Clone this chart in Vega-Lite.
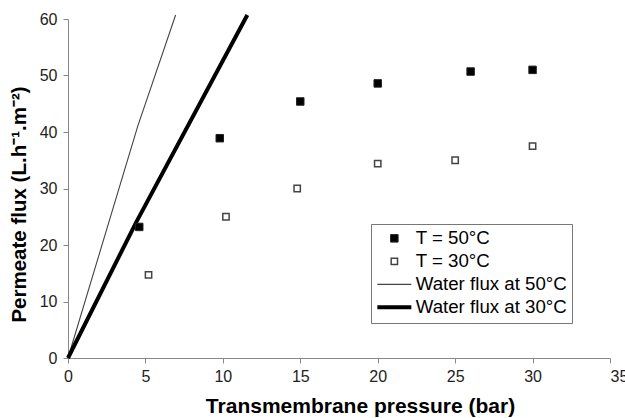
{
  "$schema": "https://vega.github.io/schema/vega-lite/v6.json",
  "width": 542,
  "height": 339,
  "autosize": "none",
  "padding": {"left": 68, "top": 19, "right": 15, "bottom": 60},
  "background": "white",
  "datasets": {
    "water": [
      {"series": "Water flux at 50°C", "tmp": 0, "flux": 0},
      {"series": "Water flux at 50°C", "tmp": 4.5, "flux": 41},
      {"series": "Water flux at 50°C", "tmp": 6.95, "flux": 60.7},
      {"series": "Water flux at 30°C", "tmp": 0, "flux": 0},
      {"series": "Water flux at 30°C", "tmp": 4.4, "flux": 24},
      {"series": "Water flux at 30°C", "tmp": 11.58, "flux": 60.7}
    ],
    "measured": [
      {"series": "T = 50°C", "tmp": 4.6, "flux": 23.2},
      {"series": "T = 50°C", "tmp": 9.8, "flux": 38.9},
      {"series": "T = 50°C", "tmp": 15, "flux": 45.4},
      {"series": "T = 50°C", "tmp": 20, "flux": 48.6},
      {"series": "T = 50°C", "tmp": 26, "flux": 50.7},
      {"series": "T = 50°C", "tmp": 30, "flux": 51.0},
      {"series": "T = 30°C", "tmp": 5.2, "flux": 14.7},
      {"series": "T = 30°C", "tmp": 10.2, "flux": 25.0},
      {"series": "T = 30°C", "tmp": 14.8, "flux": 30.0},
      {"series": "T = 30°C", "tmp": 20, "flux": 34.4},
      {"series": "T = 30°C", "tmp": 25, "flux": 35.0},
      {"series": "T = 30°C", "tmp": 30, "flux": 37.5}
    ]
  },
  "config": {
    "view": {"stroke": null},
    "font": "Liberation Sans",
    "axis": {
      "grid": false,
      "domainColor": "#888888",
      "domainWidth": 1,
      "tickColor": "#888888",
      "tickWidth": 1,
      "tickSize": 5,
      "labelFont": "Liberation Sans",
      "labelFontSize": 16,
      "labelColor": "#222222",
      "titleFont": "Liberation Sans",
      "titleFontWeight": "bold",
      "titleColor": "#000000"
    },
    "legend": {
      "labelFont": "Liberation Sans",
      "labelFontSize": 18.7,
      "labelColor": "#000000",
      "labelLimit": 300,
      "strokeColor": "#777777",
      "fillColor": "#ffffff",
      "padding": 5,
      "rowPadding": 3,
      "symbolOffset": 9,
      "labelOffset": 12
    }
  },
  "layer": [
    {
      "data": {"name": "water"},
      "mark": {"type": "line", "strokeCap": "butt"},
      "encoding": {
        "x": {
          "field": "tmp",
          "type": "quantitative",
          "scale": {"domain": [0, 35], "nice": false},
          "axis": {
            "title": "Transmembrane pressure (bar)",
            "titleFontSize": 21,
            "values": [0, 5, 10, 15, 20, 25, 30, 35],
            "labelFlush": false,
            "labelOverlap": false,
            "labelPadding": 5,
            "labelAlign": {"expr": "datum.value === 35 ? 'left' : 'center'"},
            "titleX": 292,
            "titleY": 54,
            "titleBaseline": "alphabetic"
          }
        },
        "y": {
          "field": "flux",
          "type": "quantitative",
          "scale": {"domain": [0, 60], "nice": false},
          "axis": {
            "title": "Permeate flux (L.h⁻¹.m⁻²)",
            "titleFontSize": 20.5,
            "values": [0, 10, 20, 30, 40, 50, 60],
            "labelPadding": 6,
            "titlePadding": 10,
            "titleY": 185
          }
        },
        "stroke": {
          "field": "series",
          "type": "nominal",
          "scale": {
            "type": "ordinal",
            "domain": ["T = 50°C", "T = 30°C", "Water flux at 50°C", "Water flux at 30°C"],
            "range": ["#222222", "#444444", "#444444", "#000000"]
          },
          "legend": {"title": null, "orient": "none", "legendX": 303, "legendY": 205}
        },
        "strokeWidth": {
          "field": "series",
          "type": "nominal",
          "scale": {
            "type": "ordinal",
            "domain": ["T = 50°C", "T = 30°C", "Water flux at 50°C", "Water flux at 30°C"],
            "range": [1, 1.5, 1.1, 4]
          },
          "legend": {"title": null, "orient": "none", "legendX": 303, "legendY": 205}
        }
      }
    },
    {
      "data": {"name": "measured"},
      "mark": {"type": "point", "filled": true, "opacity": 1},
      "encoding": {
        "x": {"field": "tmp", "type": "quantitative"},
        "y": {"field": "flux", "type": "quantitative"},
        "shape": {
          "field": "series",
          "type": "nominal",
          "scale": {
            "type": "ordinal",
            "domain": ["T = 50°C", "T = 30°C", "Water flux at 50°C", "Water flux at 30°C"],
            "range": ["square", "square", "M-3.4,0L3.4,0", "M-3.4,0L3.4,0"]
          },
          "legend": {"title": null, "orient": "none", "legendX": 303, "legendY": 205}
        },
        "fill": {
          "field": "series",
          "type": "nominal",
          "scale": {
            "type": "ordinal",
            "domain": ["T = 50°C", "T = 30°C", "Water flux at 50°C", "Water flux at 30°C"],
            "range": ["#000000", "#ffffff", "transparent", "transparent"]
          },
          "legend": {"title": null, "orient": "none", "legendX": 303, "legendY": 205}
        },
        "stroke": {
          "field": "series",
          "type": "nominal",
          "scale": {
            "type": "ordinal",
            "domain": ["T = 50°C", "T = 30°C", "Water flux at 50°C", "Water flux at 30°C"],
            "range": ["#222222", "#444444", "#444444", "#000000"]
          },
          "legend": {"title": null, "orient": "none", "legendX": 303, "legendY": 205}
        },
        "strokeWidth": {
          "field": "series",
          "type": "nominal",
          "scale": {
            "type": "ordinal",
            "domain": ["T = 50°C", "T = 30°C", "Water flux at 50°C", "Water flux at 30°C"],
            "range": [1, 1.5, 1.1, 4]
          },
          "legend": {"title": null, "orient": "none", "legendX": 303, "legendY": 205}
        },
        "size": {
          "field": "series",
          "type": "nominal",
          "scale": {
            "type": "ordinal",
            "domain": ["T = 50°C", "T = 30°C", "Water flux at 50°C", "Water flux at 30°C"],
            "range": [56, 40, 100, 100]
          },
          "legend": {"title": null, "orient": "none", "legendX": 303, "legendY": 205}
        }
      }
    }
  ]
}
